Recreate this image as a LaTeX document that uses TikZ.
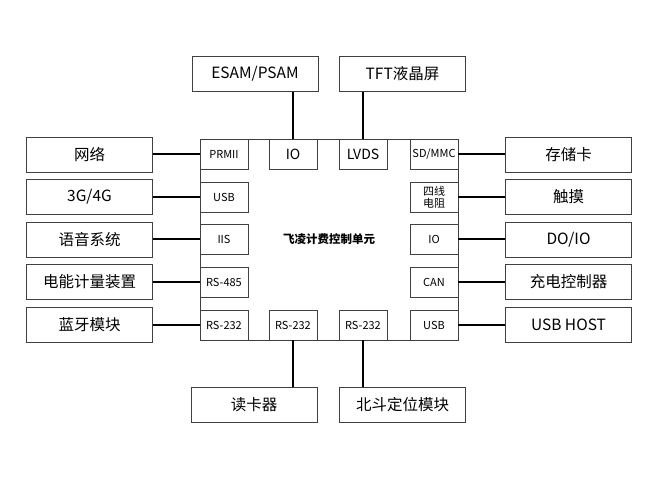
\documentclass[tikz,border=0pt]{standalone}
\usepackage{fontspec}
\setmainfont{Noto Sans CJK SC}
\usetikzlibrary{positioning}

\begin{document}
\begin{tikzpicture}[x=1pt, y=-1pt,
	every node/.style={inner sep=1pt, draw=black!75, line width=0.6pt},
	device/.style={minimum width=126pt, minimum height=35pt, font=\fontsize{15.5}{17}\selectfont},
	port/.style={minimum width=48pt, minimum height=30pt, align=center, font=\fontsize{11}{12}\selectfont},
	link/.style={line width=2pt, black}]
\useasboundingbox (0,0) rectangle (658,480);

% main unit
\node[minimum width=258pt, minimum height=201pt, font=\bfseries\fontsize{11.5}{13}\selectfont] (mcu) at (329,239.5) {飞凌计费控制单元};

% left side
\node[port] (prmii) at (224,154) {PRMII};
\node[port] (usbl)  at (224,197) {USB};
\node[port] (iis)   at (224,239) {IIS};
\node[port] (rs485) at (224,282) {RS-485};
\node[port] (rsl)   at (224,325) {RS-232};
\node[device] (net)   at (89.5,154.5) {网络};
\node[device] (mob)   at (89.5,196.5) {3G/4G};
\node[device] (voice) at (89.5,239.5) {语音系统};
\node[device] (meter) at (89.5,282) {电能计量装置};
\node[device] (bt)    at (89.5,324.5) {蓝牙模块};

% right side
\node[port] (sd)    at (434,154) {SD/MMC};
\node[port] (touch) at (434,197) {四线\\电阻};
\node[port] (ior)   at (434,239) {IO};
\node[port] (can)   at (434,282) {CAN};
\node[port] (usbr)  at (434,325) {USB};
\node[device] (card)   at (568.5,154.5) {存储卡};
\node[device] (tpad)   at (568.5,196.5) {触摸};
\node[device] (doio)   at (568.5,239.5) {DO/IO};
\node[device] (charge) at (568.5,282) {充电控制器};
\node[device] (host)   at (568.5,324.5) {USB HOST};

% top and bottom
\node[port, font=\fontsize{14}{15}\selectfont] (iot)  at (293,154) {IO};
\node[port, font=\fontsize{14}{15}\selectfont] (lvds) at (363,154) {LVDS};
\node[port] (rsa)  at (293,325) {RS-232};
\node[port] (rsb)  at (363,325) {RS-232};
\node[device] (esam)   at (255,74) {ESAM/PSAM};
\node[device] (tft)    at (402.5,74) {TFT液晶屏};
\node[device] (reader) at (254,404.5) {读卡器};
\node[device] (bd)     at (402.5,404.5) {北斗定位模块};

% connections
\foreach \a/\b in {net/prmii, mob/usbl, voice/iis, meter/rs485, bt/rsl}
	\draw[link] (\b.west) -- (\b.west -| \a.east);
\foreach \a/\b in {sd/card, touch/tpad, ior/doio, can/charge, usbr/host}
	\draw[link] (\a.east) -- (\a.east -| \b.west);
\draw[link] (iot.north) -- (iot.north |- esam.south);
\draw[link] (lvds.north) -- (lvds.north |- tft.south);
\draw[link] (rsa.south) -- (rsa.south |- reader.north);
\draw[link] (rsb.south) -- (rsb.south |- bd.north);
\end{tikzpicture}
\end{document}
